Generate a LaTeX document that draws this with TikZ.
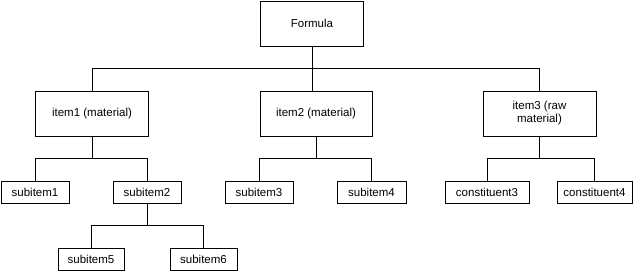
\documentclass[tikz,border=0pt]{standalone}
\usepackage{fontspec}
\setmainfont{Liberation Sans}
\begin{document}
\begin{tikzpicture}[x=1pt, y=-1pt, line width=0.9pt,
  every node/.style={font=\fontsize{11.5}{13}\selectfont},
  bigbox/.style={draw, inner sep=2pt, minimum height=45, align=center},
  smallbox/.style={draw, inner sep=2pt, minimum height=22}]
  \useasboundingbox (0,0) rectangle (641,271);
  % top and first level
  \node[bigbox, minimum width=103] (formula) at (312,23.5) {Formula};
  \node[bigbox, minimum width=113] (item1) at (92,113.5) {item1 (material)};
  \node[bigbox, minimum width=112] (item2) at (316,113.5) {item2 (material)};
  \node[bigbox, minimum width=113] (item3) at (539.5,113.5) {item3 (raw\\material)};
  % second level
  \node[smallbox, minimum width=68] (sub1) at (35,192) {subitem1};
  \node[smallbox, minimum width=68] (sub2) at (147,192) {subitem2};
  \node[smallbox, minimum width=68] (sub3) at (259,192) {subitem3};
  \node[smallbox, minimum width=69] (sub4) at (371.5,192) {subitem4};
  \node[smallbox, minimum width=84] (con3) at (487,192) {constituent3};
  \node[smallbox, minimum width=75] (con4) at (594.5,192) {constituent4};
  % third level
  \node[smallbox, minimum width=66] (sub5) at (91,259) {subitem5};
  \node[smallbox, minimum width=67] (sub6) at (203.5,259) {subitem6};
  % connectors
  \draw (formula.south) -- ++(0,22) coordinate (bus0);
  \draw (item1.north) |- (bus0) -| (item3.north);
  \draw (bus0) -- (bus0 |- item2.north);
  \foreach \p/\a/\b in {item1/sub1/sub2, item2/sub3/sub4, item3/con3/con4, sub2/sub5/sub6} {
    \draw (\p.south) -- ++(0,22) coordinate (bus);
    \draw (\a.north) |- (bus) -| (\b.north);
  }
\end{tikzpicture}
\end{document}
